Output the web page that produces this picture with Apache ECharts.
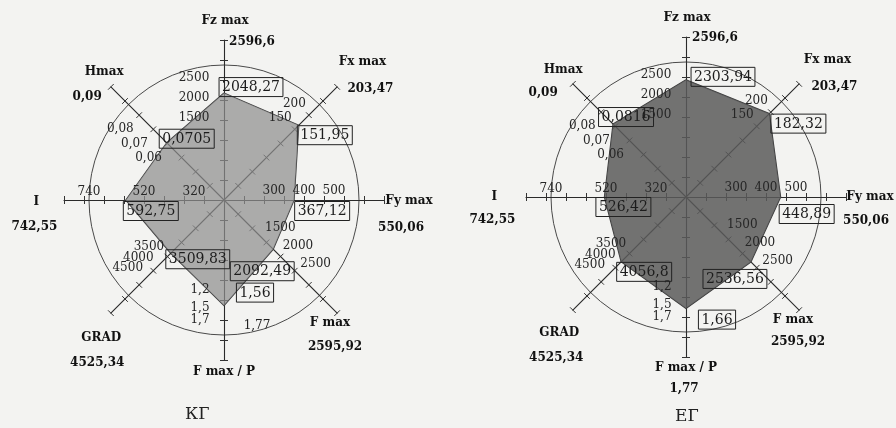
<!DOCTYPE html>
<html>
<head>
<meta charset="utf-8">
<script src="https://cdn.jsdelivr.net/npm/echarts@6/dist/echarts.min.js"></script>
<style>
  html, body { margin: 0; padding: 0; background: #f3f3f1; }
  #c { width: 896px; height: 428px; }
</style>
</head>
<body>
<div id="c"></div>
<script>
// Axes in the order the radar lays them out: counter-clockwise from the top.
const axisTitles = ['Fz max', 'Hmax', 'I', 'GRAD', 'F max / P', 'F max', 'Fy max', 'Fx max'];
const axisMaxValues = [2596.6, 0.09, 742.55, 4525.34, 1.77, 2595.92, 550.06, 203.47];
// Axis range: value at the centre and value at the end of each arm.
const axisMin = [-625, 0.03, 200, 1000, -0.2, 700, 400 / 3, -112.5];
const axisMax = [3375, 0.11, 840, 19000 / 3, 2.4667, 3900, 2000 / 3, 287.5];
// Tick values printed along each axis.
const tickLabels = [
  [1500, 2000, 2500],
  [0.06, 0.07, 0.08],
  [320, 520, 740],
  [3500, 4000, 4500],
  [1.2, 1.5, 1.7],
  [1500, 2000, 2500],
  [300, 400, 500],
  [150, 200]
];
const valuesKG = [2048.27, 0.0705, 592.75, 3509.83, 1.56, 2092.49, 367.12, 151.95];
const valuesEG = [2303.94, 0.0816, 526.42, 4056.8, 1.66, 2536.56, 448.89, 182.32];
const captions = ['КГ', 'ЕГ'];

// ---- layout / style ----
const SPLITS = 32, RING = 27, RADIUS = 160;
const centers = [[224, 200], [686, 197]];
const SERIF = 'DejaVu Serif';
// label offsets (px) from the point they belong to
const boxOffsets = [
  [[27, -6], [20, -4], [25, 11], [27, 6], [31, -13], [-11, 22], [28, 11], [26, 10]],
  [[37, -3], [13, -7], [19, 10], [23, 10], [31, 11], [-16, 17], [26, 17], [29, 10]]
];
const titleOffsets = [
  [[1, -50], [-35, -43], [-52, 2], [-48, 63], [0, 54], [39, 56], [60, 1], [49, -49]],
  [[1, -50], [-38, -42], [-56, 0], [-52, 61], [0, 53], [40, 56], [59, 0], [52, -48]]
];
const maxOffsets = [
  [[28, -29], [-52, -18], [-54, 27], [-52, 88], [33, 8], [44, 80], [52, 28], [57, -22]],
  [[29, -30], [-58, -19], [-58, 23], [-55, 86], [-2, 74], [45, 78], [55, 24], [59, -21]]
];
const tickOffsets = [[-30, 3], [-33, 0], [0, -8], [-22, -6], [-24, 6], [28, 0], [0, -9], [-18, -8]];

const decimal = v => String(+(+v).toFixed(4)).replace('.', ',');

// the drawn circle is one split ring; all others stay invisible
const ringColors = Array.from({ length: RING + 1 }, (_, i) => i === RING ? '#4a4a4a' : 'rgba(0,0,0,0)');

function mainRadar(c) {
  return {
    center: centers[c], radius: RADIUS, startAngle: 90, splitNumber: SPLITS, shape: 'circle',
    indicator: axisTitles.map((t, j) => ({ name: t, min: axisMin[j], max: axisMax[j] })),
    axisName: { show: false },
    axisLine: { lineStyle: { color: '#2a2a2a', width: 1.1 } },
    axisTick: { show: false },
    axisLabel: { show: false },
    splitLine: { lineStyle: { color: ringColors, width: 1 } },
    splitArea: { show: false }
  };
}
// small crosses along the arms: ticks on both sides of each arm
function tickRadar(c, len) {
  return {
    center: centers[c], radius: RADIUS, startAngle: 90, splitNumber: 8, shape: 'circle',
    indicator: axisTitles.map(t => ({ name: t, min: 0, max: 8 })),
    axisName: { show: false },
    axisLine: { show: false },
    axisTick: { show: true, length: len, lineStyle: { color: '#333', width: 1 } },
    axisLabel: { show: false },
    splitLine: { show: false },
    splitArea: { show: false }
  };
}

const rich = {
  box: { fontFamily: SERIF, fontSize: 14, color: '#1c1c1c', borderColor: '#222', borderWidth: 1, padding: [3, 3, 2, 3] },
  ttl: { fontFamily: SERIF, fontSize: 12, fontWeight: 'bold', color: '#111' },
  mx: { fontFamily: SERIF, fontSize: 12, fontWeight: 'bold', color: '#111' },
  mxn: { fontFamily: SERIF, fontSize: 12, color: '#222' },
  tick: { fontFamily: SERIF, fontSize: 12, color: '#262626' }
};

// one data item whose label is shown only on axis `dim`
function labelItem(values, dim, text, style, offset) {
  return {
    value: values,
    label: {
      show: true, position: 'inside', offset: offset, color: '#111', rich: rich,
      formatter: p => p.dimensionIndex === dim ? '{' + style + '|' + text + '}' : ''
    }
  };
}

function chartSeries(c, values, fill, fillOpacity) {
  const items = [];
  tickLabels.forEach((list, j) => list.forEach(t => {
    const v = axisMin.slice();
    v[j] = t;
    items.push(labelItem(v, j, decimal(t), 'tick', tickOffsets[j]));
  }));
  values.forEach((v, j) => items.push(labelItem(values, j, decimal(v), 'box', boxOffsets[c][j])));
  axisTitles.forEach((t, j) => items.push(labelItem(axisMaxValues, j, t, 'ttl', titleOffsets[c][j])));
  axisMaxValues.forEach((m, j) => {
    const style = (c === 0 && j === 4) ? 'mxn' : 'mx';
    items.push(labelItem(axisMaxValues, j, decimal(m), style, maxOffsets[c][j]));
  });
  return [
    {
      type: 'radar', radarIndex: c, silent: true, z: 2, symbol: 'none',
      data: [{
        value: values,
        lineStyle: { color: '#3a3a3a', width: 1.2 },
        areaStyle: { color: fill, opacity: fillOpacity }
      }]
    },
    {
      type: 'radar', radarIndex: c, silent: true, z: 5,
      symbol: 'circle', symbolSize: 1,
      itemStyle: { color: 'rgba(0,0,0,0)', borderWidth: 0 },
      lineStyle: { width: 0, opacity: 0 },
      data: items
    }
  ];
}

const chart = echarts.init(document.getElementById('c'));
chart.setOption({
  backgroundColor: '#f3f3f1',
  animation: false,
  title: [
    { text: captions[0], left: 180, top: 401, textStyle: { fontFamily: SERIF, fontSize: 17, fontWeight: 'normal', color: '#222' } },
    { text: captions[1], left: 670, top: 403, textStyle: { fontFamily: SERIF, fontSize: 17, fontWeight: 'normal', color: '#222' } }
  ],
  radar: [mainRadar(0), mainRadar(1), tickRadar(0, 4), tickRadar(0, -4), tickRadar(1, 4), tickRadar(1, -4)],
  series: [
    ...chartSeries(0, valuesKG, '#8f8f8f', 0.72),
    ...chartSeries(1, valuesEG, '#5a5a5a', 0.85)
  ]
});
</script>
</body>
</html>
